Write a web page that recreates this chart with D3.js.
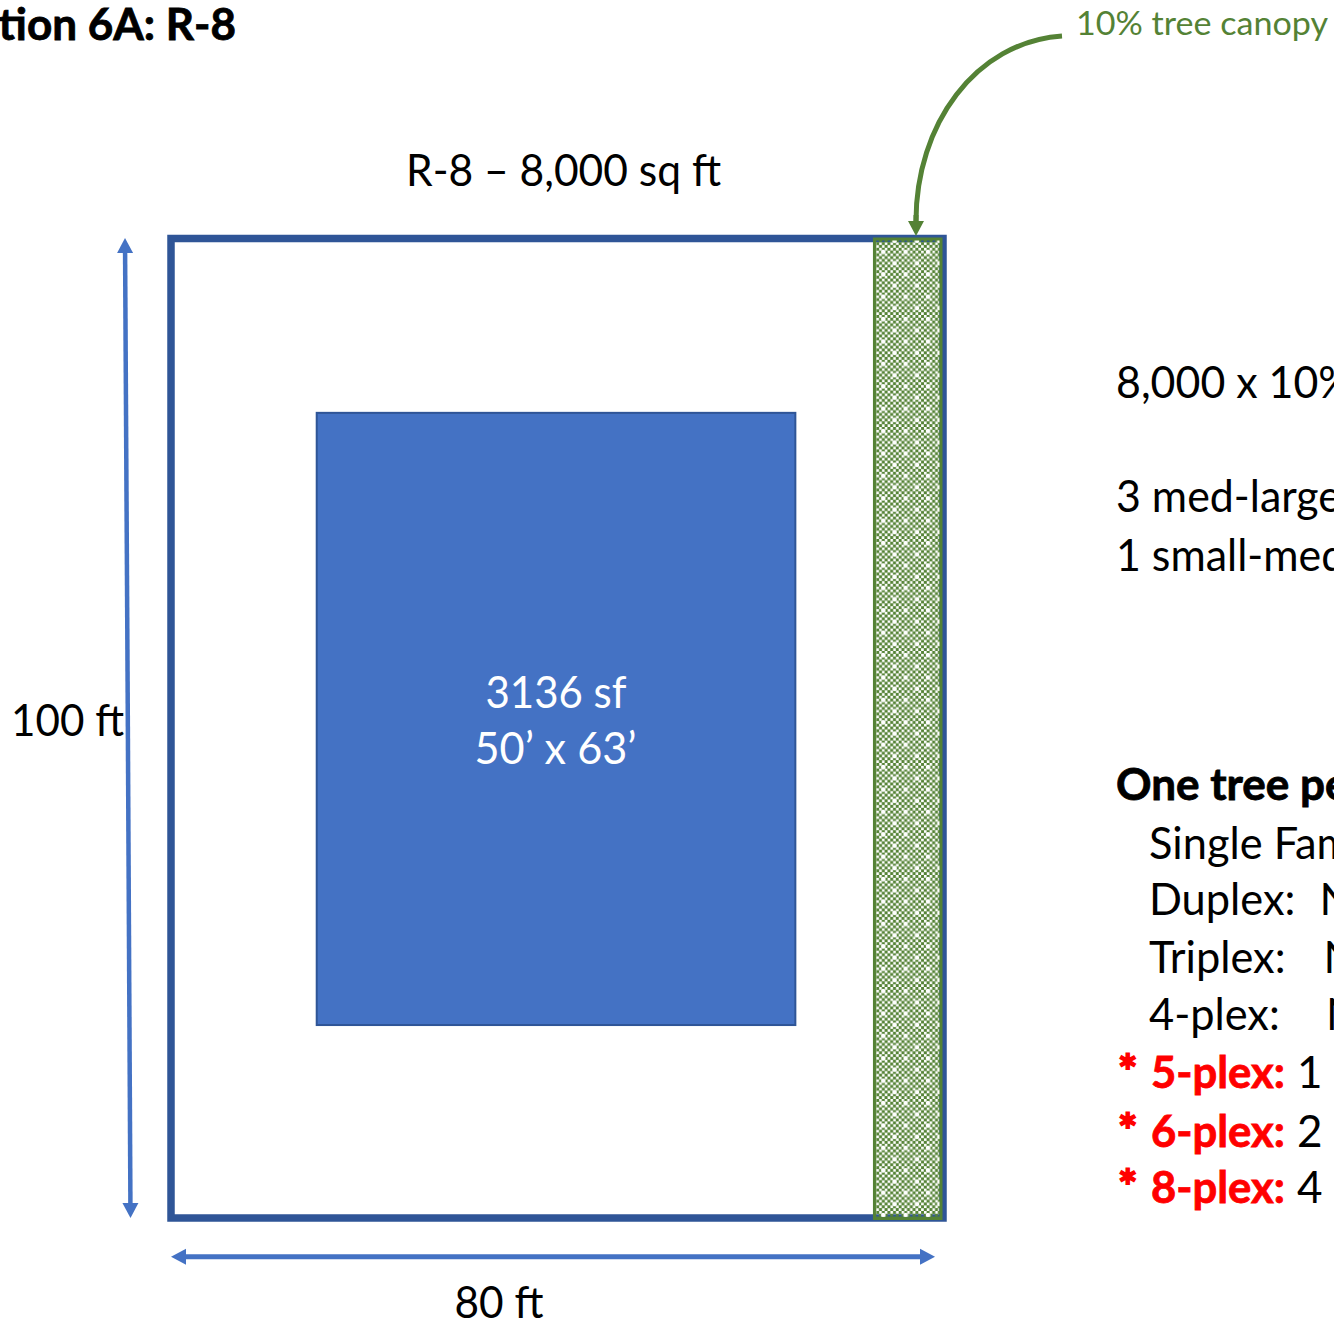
<!DOCTYPE html>
<html>
<head>
<meta charset="utf-8">
<script src="https://cdn.jsdelivr.net/npm/d3@7"></script>
<style>
    html, body { margin: 0; padding: 0; background: #fff; overflow: hidden; }
    svg { display: block; }
    text { font-family: Lato, "Open Sans", sans-serif; }
</style>
</head>
<body>
<div id="site-plan"></div>
<script>
// lot and building, in feet
const lotFeet = [80, 100];
const buildingXFeet = [15.1, 64.7];
const buildingYFeet = [17.8, 80.3];
const canopyXFeet = [73, 80];

const titleLabel = "Option 6A: R-8";
const lotLabel = "R-8 \u2013 8,000 sq ft";
const canopyLabel = "10% tree canopy";
const buildingLabels = ["3136 sf", "50\u2019 x 63\u2019"];
const widthLabel = "80 ft";
const depthLabel = "100 ft";
const sumLabels = ["8,000 x 10%", "3 med-large", "1 small-med"];
const ruleHeading = "One tree per";
const plainRules = ["Single Fam", "Duplex:", "Triplex:", "4-plex:"];
const plainAnswers = ["", "N", "N", "N"];
const redRules = ["5-plex:", "6-plex:", "8-plex:"];
const redAnswers = ["1", "2", "4"];

const width = 1334, height = 1321;
const blue = "#4472c4", darkBlue = "#2f5597", green = "#548235", red = "#ff0000";

const svg = d3.select("#site-plan").append("svg")
    .attr("width", width)
    .attr("height", height);

const x = d3.scaleLinear().domain([0, lotFeet[0]]).range([171, 943]);
const y = d3.scaleLinear().domain([0, lotFeet[1]]).range([238.5, 1218]);

// checker fill for the canopy strip
const defs = svg.append("defs");
const cell = 2.8;
const pattern = defs.append("pattern")
    .attr("id", "canopy-fill")
    .attr("patternUnits", "userSpaceOnUse")
    .attr("x", 876.3).attr("y", 225.4)
    .attr("width", cell * 8).attr("height", cell * 8);

d3.range(8).forEach(i => {
    d3.range(8).forEach(j => {
        if ((i + j) % 2 === 0) {
            pattern.append("rect")
                .attr("x", i * cell - 0.1).attr("y", j * cell - 0.1)
                .attr("width", cell + 0.2).attr("height", cell + 0.2)
                .attr("fill", green);
        }
    });
});
// white flecks on top of the checker
[[2, 1], [6, 5]].forEach(d => {
    pattern.append("rect")
        .attr("x", d[0] * cell - cell * 0.3).attr("y", d[1] * cell)
        .attr("width", cell * 1.6).attr("height", cell)
        .attr("fill", "#fff");
    pattern.append("rect")
        .attr("x", d[0] * cell).attr("y", d[1] * cell - cell * 0.3)
        .attr("width", cell).attr("height", cell * 1.6)
        .attr("fill", "#fff");
});

// lot outline
svg.append("rect")
    .attr("x", x(0)).attr("y", y(0))
    .attr("width", x(lotFeet[0]) - x(0))
    .attr("height", y(lotFeet[1]) - y(0))
    .attr("fill", "#fff")
    .attr("stroke", darkBlue)
    .attr("stroke-width", 7.5);

// building
svg.append("rect")
    .attr("x", x(buildingXFeet[0])).attr("y", y(buildingYFeet[0]))
    .attr("width", x(buildingXFeet[1]) - x(buildingXFeet[0]))
    .attr("height", y(buildingYFeet[1]) - y(buildingYFeet[0]))
    .attr("fill", blue)
    .attr("stroke", darkBlue)
    .attr("stroke-width", 2);

// canopy strip
svg.append("rect")
    .attr("x", x(canopyXFeet[0]) - 1).attr("y", y(0) + 0.5)
    .attr("width", x(canopyXFeet[1]) - x(canopyXFeet[0]) - 1)
    .attr("height", y(lotFeet[1]) - y(0))
    .attr("fill", "url(#canopy-fill)")
    .attr("stroke", green)
    .attr("stroke-width", 3);

// line with a solid triangular head at its end
function arrow(points, color, lineWidth) {
    const n = points.length;
    const tip = points[n - 1], from = points[n - 2];
    const a = Math.atan2(tip[1] - from[1], tip[0] - from[0]);
    const headLength = 15, headHalf = 8;
    const base = [tip[0] - headLength * Math.cos(a), tip[1] - headLength * Math.sin(a)];
    const body = points.slice(0, n - 1).concat([base]);

    svg.append("path")
        .attr("d", d3.line()(body))
        .attr("fill", "none")
        .attr("stroke", color)
        .attr("stroke-width", lineWidth);

    svg.append("path")
        .attr("d", d3.line()([
            tip,
            [base[0] - headHalf * Math.sin(a), base[1] + headHalf * Math.cos(a)],
            [base[0] + headHalf * Math.sin(a), base[1] - headHalf * Math.cos(a)]
        ]) + "Z")
        .attr("fill", color);
}

// dimension arrows, both ways
arrow([[127.7, 700], [125, 238]], blue, 4.5);
arrow([[127.7, 700], [130.5, 1218]], blue, 4.5);
arrow([[550, 1256.7], [171, 1256.7]], blue, 5);
arrow([[550, 1256.7], [935, 1256.7]], blue, 5);

// curved leader from the canopy label
const leader = d3.path();
leader.moveTo(1062, 36);
leader.bezierCurveTo(975, 42, 916, 125, 916, 221);
svg.append("path")
    .attr("d", leader.toString())
    .attr("fill", "none")
    .attr("stroke", green)
    .attr("stroke-width", 5);
arrow([[916, 215], [916, 236]], green, 5);

// text squeezed to the width it has in the drawing, Lato runs wider than the original face
function label(str, xPos, yPos, size, opts) {
    opts = opts || {};
    const t = svg.append("text")
        .attr("x", xPos).attr("y", yPos)
        .attr("font-size", size)
        .attr("font-weight", opts.bold ? 700 : 400)
        .attr("fill", opts.fill || "#000")
        .attr("text-anchor", opts.anchor || "start")
        .text(str);
    if (opts.bold) {
        t.attr("stroke", opts.fill || "#000").attr("stroke-width", opts.heavy || 0.8);
    }
    if (opts.squeeze) {
        opts.fit = t.node().getComputedTextLength() * opts.squeeze;
    }
    if (opts.fit) {
        t.attr("textLength", opts.fit).attr("lengthAdjust", "spacingAndGlyphs");
    }
    return t;
}

label(titleLabel, 236, 40, 44, {bold: true, anchor: "end"});
label(lotLabel, 406, 186, 44, {fit: 315});
label(canopyLabel, 1076, 35, 33, {fill: green, fit: 252});
label(depthLabel, 11, 736, 44, {fit: 113});
label(widthLabel, 454.5, 1318, 44, {fit: 89});
label(buildingLabels[0], 556, 708, 44, {fill: "#fff", anchor: "middle", fit: 141});
label(buildingLabels[1], 555.5, 764, 44, {fill: "#fff", anchor: "middle", fit: 162});

// right hand notes, cut by the page edge
const sumY = d3.scaleOrdinal().domain(sumLabels).range([398, 512, 571]);
sumLabels.forEach(d => label(d, 1116, sumY(d), 44, {squeeze: 0.975}));

label(ruleHeading, 1116, 800, 44, {bold: true});

const plainY = d3.scaleOrdinal().domain(plainRules).range([859, 915, 973, 1030]);
const answerX = [0, 1319.5, 1323.5, 1326];
plainRules.forEach((d, i) => {
    label(d, 1149, plainY(d), 44, {squeeze: 0.985});
    if (plainAnswers[i]) label(plainAnswers[i], answerX[i], plainY(d), 44);
});

const redY = d3.scaleOrdinal().domain(redRules).range([1088, 1147, 1203]);
redRules.forEach((d, i) => {
    label("*", 1118, redY(d) - 0.5, 46, {bold: true, fill: red, heavy: 1.8});
    label(d, 1151, redY(d), 44, {bold: true, fill: red, fit: 134});
    label(redAnswers[i], 1297, redY(d), 44);
});
</script>
</body>
</html>
